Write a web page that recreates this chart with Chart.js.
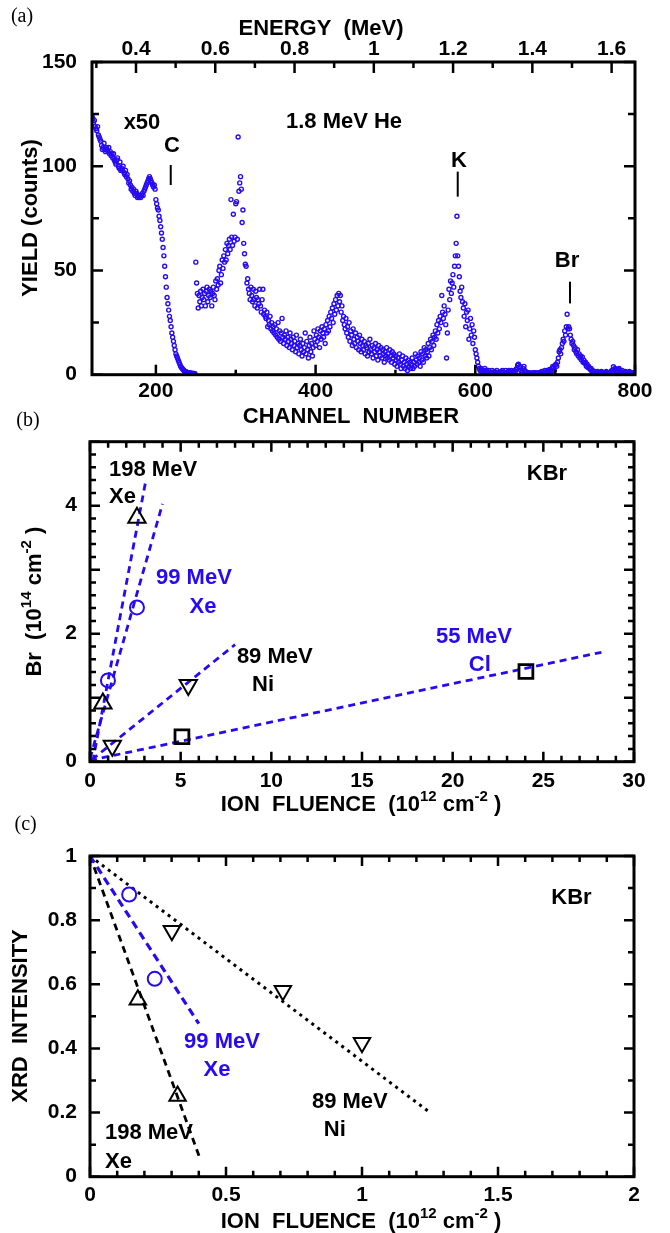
<!DOCTYPE html>
<html>
<head>
<meta charset="utf-8">
<script src="https://cdn.jsdelivr.net/npm/chart.js@4.4.1/dist/chart.umd.min.js"></script>
<style>
  html, body { margin: 0; padding: 0; background: #fff; }
  #page { position: relative; width: 670px; height: 1233px; overflow: hidden; background: #fff; }
  canvas { position: absolute; left: 0; }
</style>
</head>
<body>
<div id="page">
  <canvas id="chartA" width="670" height="440" style="top:0px"></canvas>
  <canvas id="chartB" width="670" height="430" style="top:400px"></canvas>
  <canvas id="chartC" width="670" height="433" style="top:800px"></canvas>
</div>
<script>
'use strict'

const BLUE = 'rgb(38,10,245)';
const SANS = "'Liberation Sans', Arial, sans-serif";
const SERIF = "'Liberation Serif', 'Times New Roman', serif";

// ---------- (a) RBS spectrum ----------
// channels 120..249 (shown x50)
const lowStartChannel = 120;
const lowCounts = [
  124, 123, 121, 122, 119, 118, 117, 119, 115, 114,
  113, 112, 110, 108, 109, 111, 108, 107, 109, 108,
  107, 109, 106, 107, 105, 106, 104, 106, 103, 102,
  101, 103, 104, 100, 99, 102, 98, 99, 98, 100,
  97, 96, 98, 95, 96, 94, 92, 93, 91, 89,
  90, 88, 89, 87, 86, 88, 87, 85, 86, 85,
  86, 85, 86, 87, 86, 88, 89, 90, 91, 92,
  93, 94, 95, 94, 93, 92, 91, 90, 91, 89,
  84, 82, 80, 79, 76, 74, 71, 68, 65, 61,
  57, 52, 47, 42, 37, 34, 31, 28, 26, 23,
  20, 18, 16, 14, 12, 10, 9, 8, 7, 6,
  5, 4, 3.5, 3, 2.5, 2, 1.8, 1.5, 1.3, 1.2,
  1, 0.9, 0.8, 0.8, 0.7, 0.7, 0.6, 0.6, 0.6, 0.5
];
// channels 250..800
const highStartChannel = 250;
const highCounts = [
  54, 44, 39, 32, 38, 35, 40, 33, 37, 41,
  36, 39, 33, 40, 42, 35, 38, 41, 37, 40,
  33, 39, 42, 38, 36, 45, 41, 46, 43, 50,
  52, 44, 48, 55, 51, 57, 54, 60, 55, 63,
  58, 62, 65, 60, 84, 66, 62, 77, 64, 66,
  82, 83, 65, 114, 88, 92, 95, 89, 73, 79,
  63, 58, 53, 52, 44, 46, 41, 39, 36, 42,
  38, 35, 41, 36, 33, 40, 37, 32, 36, 34,
  41, 33, 30, 36, 41, 29, 31, 28, 27, 30,
  23, 26, 24, 28, 22, 25, 21, 23, 20, 24,
  19, 22, 18, 25, 17, 21, 16, 20, 27, 18,
  15, 19, 17, 21, 14, 18, 16, 13, 20, 17,
  15, 12, 18, 14, 16, 11, 19, 13, 15, 10,
  14, 17, 12, 9, 15, 11, 13, 20, 10, 16,
  12, 8, 14, 18, 11, 15, 9, 13, 21, 17,
  14, 19, 16, 22, 18, 13, 21, 17, 23, 20,
  18, 22, 15, 24, 20, 26, 21, 28, 23, 30,
  27, 32, 25, 34, 29, 36, 31, 38, 33, 39,
  35, 38, 30, 33, 26, 28, 24, 22, 27, 20,
  23, 18, 25, 16, 21, 19, 14, 22, 17, 15,
  20, 13, 18, 16, 12, 19, 15, 11, 17, 14,
  12, 16, 10, 14, 13, 9, 15, 11, 17, 12,
  10, 14, 8, 13, 11, 15, 9, 12, 7, 14,
  11, 9, 13, 8, 12, 10, 6, 11, 9, 13,
  8, 10, 7, 12, 9, 6, 11, 8, 10, 5,
  9, 7, 4, 8, 6, 10, 5, 3, 7, 9,
  4, 6, 3, 8, 5, 2, 7, 4, 6, 3,
  5, 8, 3, 6, 4, 10, 7, 5, 9, 6,
  8, 4, 11, 7, 10, 6, 13, 9, 12, 8,
  11, 15, 9, 13, 17, 12, 16, 19, 14, 18,
  21, 17, 24, 20, 26, 22, 28, 25, 38, 30,
  27, 33, 29, 24, 8, 20, 31, 41, 36, 45,
  39, 44, 48, 42, 52, 57, 63, 76, 57, 52,
  47, 40, 37, 42, 35, 32, 28, 34, 23, 30,
  26, 31, 17, 22, 27, 19, 24, 15, 21, 18,
  12, 10, 8, 6, 4, 3, 2, 3, 2, 1,
  2, 1, 3, 1, 2, 0.5, 1, 2, 1, 0.5,
  1, 2, 0.5, 1, 1.5, 0.5, 1, 2, 1, 0.5,
  1, 0.5, 1.5, 1, 2, 1, 0.5, 1, 2, 1,
  0.5, 1, 2, 1.5, 1, 2, 1, 0.5, 1, 2,
  1, 2.5, 3, 4.5, 5, 3.5, 4, 2, 1, 2,
  3, 4, 2, 1.5, 1, 0.5, 1, 0.5, 1, 0.5,
  0.5, 0.5, 1, 0.5, 1, 0.5, 1, 0.5, 0.5, 1,
  0.5, 1, 0.5, 1.5, 1, 0.5, 1, 2, 1, 1.5,
  2, 1, 1.5, 2.5, 1, 2, 3, 4, 3.5, 2,
  4.5, 5, 4, 6, 8, 11, 12, 10, 13, 15,
  17, 16, 21, 19, 23, 29, 22, 23, 22, 19,
  17, 15, 16, 14, 12, 13, 11, 10, 12, 9,
  10, 8, 9, 7, 8.5, 6, 7, 5.5, 6, 4,
  5, 3.5, 4, 3, 2.5, 3, 1.5, 2, 1, 1.5,
  1, 0.5, 1, 1.5, 0.5, 1, 0.5, 1, 1.5, 1,
  0.5, 1, 0.5, 1, 1.5, 1, 0.5, 1, 0.5, 1,
  1.5, 2, 1, 3.8, 2.5, 3, 1.5, 2, 1, 2.5,
  3, 2, 1.5, 1, 2, 1, 0.5, 1, 1.5, 1,
  1, 0.5, 1, 1.5, 0.5, 1, 0.5, 1, 0.5, 1,
  0.5
];
const channelRange = [120, 800];
const channelTicks = [200, 400, 600, 800];
const yieldRange = [0, 150];
const yieldTicks = [0, 50, 100, 150];
const energyRange = [0.289, 1.659];
const energyTicks = [0.4, 0.6, 0.8, 1, 1.2, 1.4, 1.6];

// ---------- (b) Br loss vs fluence ----------
const xe198Fluence = [0.71, 2.59];
const xe198Br = [0.91, 3.81];
const xe99Fluence = [0.99, 2.59];
const xe99Br = [1.27, 2.41];
const ni89Fluence = [1.23, 5.42];
const ni89Br = [0.25, 1.20];
const cl55Fluence = [5.07, 24.04];
const cl55Br = [0.39, 1.41];
// fitted dashed lines (end points)
const xe198FitX = [0.15, 3.05];
const xe198FitY = [0, 4.35];
const xe99FitX = [0, 4.0];
const xe99FitY = [0.05, 4.03];
const ni89FitX = [0.1, 8.0];
const ni89FitY = [0.03, 1.83];
const cl55FitX = [0, 28.2];
const cl55FitY = [0.02, 1.71];
const fluenceRangeB = [0, 30];
const fluenceTicksB = [0, 5, 10, 15, 20, 25, 30];
const brRange = [0, 5];
const brTicks = [0, 2, 4];

// ---------- (c) XRD intensity vs fluence ----------
const xe99XrdFluence = [0.144, 0.238];
const xe99Xrd = [0.88, 0.617];
const xe198XrdFluence = [0.176, 0.322];
const xe198Xrd = [0.552, 0.252];
const ni89XrdFluence = [0.301, 0.709, 1.0];
const ni89Xrd = [0.767, 0.58, 0.418];
const ni89XrdFitX = [0, 1.25];
const ni89XrdFitY = [1, 0.2];
const xe99XrdFitX = [0, 0.4];
const xe99XrdFitY = [1, 0.477];
const xe198XrdFitX = [0, 0.405];
const xe198XrdFitY = [1, 0.055];
const fluenceRangeC = [0, 2];
const fluenceTicksC = [0, 0.5, 1, 1.5, 2];
const xrdRange = [0, 1];
const xrdTicks = [0, 0.2, 0.4, 0.6, 0.8, 1];

// ---------- helpers ----------
function pts(xs, ys){
  return xs.map((x, i) => ({x: x, y: ys[i]}));
}

function seq(start, values){
  return values.map((v, i) => ({x: start + i, y: v}));
}

function stepValues(from, to, step){
  let out = [];
  for(let i = 0; from + i * step <= to + 1e-9; i++){
    out.push(+(from + i * step).toFixed(6));
  }
  return out;
}

function fixedTicks(values){
  return function(scale){
    scale.ticks = values.map(v => ({value: v}));
  };
}

function axis(range, ticks, position, size, pad){
  return {
    type: 'linear',
    position: position,
    min: range[0],
    max: range[1],
    afterBuildTicks: fixedTicks(ticks),
    afterFit: function(scale){
      if(position === 'left'){ scale.width = size; } else { scale.height = size; }
    },
    grid: {display: false, drawTicks: false},
    border: {display: false},
    ticks: {
      padding: pad,
      color: '#000',
      maxRotation: 0,
      autoSkip: false,
      font: {family: SANS, size: 21, weight: 'bold'},
      callback: v => String(v)
    }
  };
}

// text with optional superscripts: parts = [[text, sup], ...]
function drawRich(ctx, parts, x, y, opt){
  opt = opt || {};
  const size = opt.size || 22;
  const supSize = Math.round(size * 0.66);
  const weight = opt.weight || 'bold';
  const family = opt.family || SANS;
  ctx.save();
  ctx.fillStyle = opt.color || '#000';
  ctx.textBaseline = 'middle';
  ctx.textAlign = 'left';
  ctx.translate(x, y);
  if(opt.rotate){ ctx.rotate(opt.rotate); }
  let widths = parts.map(p => {
    ctx.font = weight + ' ' + (p[1] ? supSize : size) + 'px ' + family;
    return ctx.measureText(p[0]).width;
  });
  let total = widths.reduce((a, b) => a + b, 0);
  let cx = opt.align === 'left' ? 0 : -total / 2;
  parts.forEach((p, i) => {
    ctx.font = weight + ' ' + (p[1] ? supSize : size) + 'px ' + family;
    ctx.fillText(p[0], cx, p[1] ? -size * 0.36 : 0);
    cx += widths[i];
  });
  ctx.restore();
}

function drawFrame(chart, specs){
  const ctx = chart.ctx;
  const a = chart.chartArea;
  ctx.save();
  ctx.strokeStyle = '#000';
  ctx.lineWidth = 2.5;
  ctx.lineCap = 'butt';
  for(let spec of specs){
    const scale = chart.scales[spec.id];
    for(let v of spec.values){
      const p = scale.getPixelForValue(v);
      const major = spec.major.some(m => Math.abs(m - v) < 1e-6);
      const len = major ? spec.long : spec.short;
      ctx.beginPath();
      for(let side of spec.sides){
        if(side === 'bottom'){ ctx.moveTo(p, a.bottom); ctx.lineTo(p, a.bottom - len); }
        if(side === 'top'){ ctx.moveTo(p, a.top); ctx.lineTo(p, a.top + len); }
        if(side === 'left'){ ctx.moveTo(a.left, p); ctx.lineTo(a.left + len, p); }
        if(side === 'right'){ ctx.moveTo(a.right, p); ctx.lineTo(a.right - len, p); }
      }
      ctx.stroke();
    }
  }
  ctx.lineWidth = 3;
  ctx.strokeRect(a.left, a.top, a.right - a.left, a.bottom - a.top);
  ctx.restore();
}

function drawNotes(chart, notes){
  const xs = chart.scales.x;
  const ys = chart.scales.y;
  for(let n of notes){
    drawRich(chart.ctx, [[n.t, false]], xs.getPixelForValue(n.x), ys.getPixelForValue(n.y),
      {color: n.color, align: n.align});
  }
}

function lineSet(data, color, dash, width){
  return {
    data: data,
    showLine: true,
    pointRadius: 0,
    borderColor: color,
    borderWidth: width || 2.8,
    borderDash: dash,
    fill: false
  };
}

function markerSet(data, style, radius, color, width, rotation){
  return {
    data: data,
    showLine: false,
    pointStyle: style,
    pointRadius: radius,
    pointRotation: rotation || 0,
    pointBorderColor: color,
    pointBackgroundColor: 'rgba(255,255,255,0)',
    pointBorderWidth: width,
    borderColor: color,
    backgroundColor: 'rgba(255,255,255,0)'
  };
}

const baseOptions = {
  responsive: false,
  animation: false,
  events: [],
  plugins: {legend: {display: false}, tooltip: {enabled: false}}
};

// ---------- chart (a) ----------
const peakMarks = [
  {t: 'C', x: 220, y: 109.7, lx: 218.6, y1: 100.6, y2: 91},
  {t: 'K', x: 579.6, y: 102.5, lx: 578, y1: 97.4, y2: 85.4},
  {t: 'Br', x: 714.9, y: 54.5, lx: 718.6, y1: 44.6, y2: 34.2}
];
const notesA = [
  {t: 'x50', x: 182.6, y: 121},
  {t: '1.8 MeV He', x: 435.6, y: 121.2}
];

const pluginA = {
  id: 'decorA',
  afterDraw(chart){
    const ctx = chart.ctx;
    drawFrame(chart, [
      {id: 'x', sides: ['bottom'], values: stepValues(200, 800, 100), major: channelTicks, long: 10, short: 5},
      {id: 'x2', sides: ['top'], values: stepValues(0.3, 1.6, 0.1), major: energyTicks, long: 11, short: 6},
      {id: 'y', sides: ['left', 'right'], values: stepValues(0, 150, 25), major: yieldTicks, long: 11, short: 7}
    ]);
    drawNotes(chart, notesA.concat(peakMarks));
    const xs = chart.scales.x;
    const ys = chart.scales.y;
    ctx.save();
    ctx.strokeStyle = '#000';
    ctx.lineWidth = 2;
    for(let m of peakMarks){
      const px = xs.getPixelForValue(m.lx);
      ctx.beginPath();
      ctx.moveTo(px, ys.getPixelForValue(m.y1));
      ctx.lineTo(px, ys.getPixelForValue(m.y2));
      ctx.stroke();
    }
    ctx.restore();
    drawRich(ctx, [['(a)', false]], 22, 17, {family: SERIF, weight: 'normal', size: 20});
    drawRich(ctx, [['ENERGY  (MeV)', false]], 321, 29);
    drawRich(ctx, [['CHANNEL  NUMBER', false]], 351, 417);
    drawRich(ctx, [['YIELD (counts)', false]], 31, 218, {rotate: -Math.PI / 2});
  }
};

const pointStyleA = {
  showLine: false,
  pointStyle: 'circle',
  pointRadius: 2,
  pointBorderWidth: 1.4,
  pointBorderColor: BLUE,
  pointBackgroundColor: 'rgba(255,255,255,0)'
};

new Chart(document.getElementById('chartA'), {
  type: 'scatter',
  data: {
    datasets: [
      Object.assign({data: seq(lowStartChannel, lowCounts)}, pointStyleA),
      Object.assign({data: seq(highStartChannel, highCounts)}, pointStyleA)
    ]
  },
  options: Object.assign({}, baseOptions, {
    layout: {padding: {left: 0, right: 35, top: 0, bottom: 0}},
    scales: {
      x: axis(channelRange, channelTicks, 'bottom', 440 - 374.7, 4),
      x2: axis(energyRange, energyTicks, 'top', 62, 0),
      y: axis(yieldRange, yieldTicks, 'left', 92, 15)
    }
  }),
  plugins: [pluginA]
});

// ---------- chart (b) ----------
const notesB = [
  {t: '198 MeV', x: 1.05, y: 4.56, align: 'left'},
  {t: 'Xe', x: 1.05, y: 4.13, align: 'left'},
  {t: 'KBr', x: 25.2, y: 4.49},
  {t: '99 MeV', x: 3.64, y: 2.87, align: 'left', color: BLUE},
  {t: 'Xe', x: 6.23, y: 2.42, color: BLUE},
  {t: '89 MeV', x: 8.1, y: 1.64, align: 'left'},
  {t: 'Ni', x: 9.54, y: 1.2},
  {t: '55 MeV', x: 19.08, y: 1.95, align: 'left', color: BLUE},
  {t: 'Cl', x: 21.5, y: 1.51, color: BLUE}
];

const pluginB = {
  id: 'decorB',
  afterDraw(chart){
    const ctx = chart.ctx;
    drawFrame(chart, [
      {id: 'x', sides: ['bottom', 'top'], values: stepValues(0, 30, 1), major: fluenceTicksB, long: 10, short: 6},
      {id: 'y', sides: ['left', 'right'], values: stepValues(0, 5, 0.2), major: stepValues(0, 5, 1), long: 10, short: 6}
    ]);
    drawNotes(chart, notesB);
    drawRich(ctx, [['(b)', false]], 28, 21, {family: SERIF, weight: 'normal', size: 20});
    drawRich(ctx, [['ION  FLUENCE  (10', false], ['12', true], [' cm', false], ['-2', true], [' )', false]], 361, 405);
    drawRich(ctx, [['Br  (10', false], ['14', true], [' cm', false], ['-2', true], [' )', false]], 35, 201.7, {rotate: -Math.PI / 2});
  }
};

new Chart(document.getElementById('chartB'), {
  type: 'scatter',
  data: {
    datasets: [
      markerSet(pts(xe198Fluence, xe198Br), 'triangle', 10, '#000', 2),
      markerSet(pts(xe99Fluence, xe99Br), 'circle', 7, BLUE, 2),
      markerSet(pts(ni89Fluence, ni89Br), 'triangle', 10, '#000', 2, 180),
      markerSet(pts(cl55Fluence, cl55Br), 'rect', 9.8, '#000', 2.8),
      lineSet(pts(xe198FitX, xe198FitY), BLUE, [7, 5]),
      lineSet(pts(xe99FitX, xe99FitY), BLUE, [7, 5]),
      lineSet(pts(ni89FitX, ni89FitY), BLUE, [7, 5]),
      lineSet(pts(cl55FitX, cl55FitY), BLUE, [7, 5])
    ]
  },
  options: Object.assign({}, baseOptions, {
    layout: {padding: {left: 0, right: 36, top: 41.7, bottom: 0}},
    scales: {
      x: axis(fluenceRangeB, fluenceTicksB, 'bottom', 430 - 361.7, 7),
      y: axis(brRange, brTicks, 'left', 90, 13)
    }
  }),
  plugins: [pluginB]
});

// ---------- chart (c) ----------
const notesC = [
  {t: 'KBr', x: 1.77, y: 0.87},
  {t: '99 MeV', x: 0.346, y: 0.42, align: 'left', color: BLUE},
  {t: 'Xe', x: 0.467, y: 0.333, color: BLUE},
  {t: '89 MeV', x: 0.816, y: 0.233, align: 'left'},
  {t: 'Ni', x: 0.9, y: 0.146},
  {t: '198 MeV', x: 0.055, y: 0.136, align: 'left'},
  {t: 'Xe', x: 0.055, y: 0.046, align: 'left'}
];

const pluginC = {
  id: 'decorC',
  afterDraw(chart){
    const ctx = chart.ctx;
    drawFrame(chart, [
      {id: 'x', sides: ['bottom', 'top'], values: stepValues(0, 2, 0.1), major: fluenceTicksC, long: 10, short: 6},
      {id: 'y', sides: ['left', 'right'], values: stepValues(0, 1, 0.1), major: xrdTicks, long: 10, short: 6}
    ]);
    drawNotes(chart, notesC);
    drawRich(ctx, [['(c)', false]], 25.6, 25, {family: SERIF, weight: 'normal', size: 20});
    drawRich(ctx, [['ION  FLUENCE  (10', false], ['12', true], [' cm', false], ['-2', true], [' )', false]], 361, 422);
    drawRich(ctx, [['XRD  INTENSITY', false]], 21.4, 216, {rotate: -Math.PI / 2});
  }
};

new Chart(document.getElementById('chartC'), {
  type: 'scatter',
  data: {
    datasets: [
      markerSet(pts(xe99XrdFluence, xe99Xrd), 'circle', 7, BLUE, 2),
      markerSet(pts(xe198XrdFluence, xe198Xrd), 'triangle', 9.5, '#000', 2),
      markerSet(pts(ni89XrdFluence, ni89Xrd), 'triangle', 9.5, '#000', 2, 180),
      lineSet(pts(ni89XrdFitX, ni89XrdFitY), '#000', [3, 4.5], 3),
      lineSet(pts(xe99XrdFitX, xe99XrdFitY), BLUE, [8, 5], 3.2),
      lineSet(pts(xe198XrdFitX, xe198XrdFitY), '#000', [7, 5], 2.8)
    ]
  },
  options: Object.assign({}, baseOptions, {
    layout: {padding: {left: 0, right: 36, top: 56, bottom: 0}},
    scales: {
      x: axis(fluenceRangeC, fluenceTicksC, 'bottom', 433 - 376.7, 6),
      y: axis(xrdRange, xrdTicks, 'left', 90, 13)
    }
  }),
  plugins: [pluginC]
});
</script>
</body>
</html>
